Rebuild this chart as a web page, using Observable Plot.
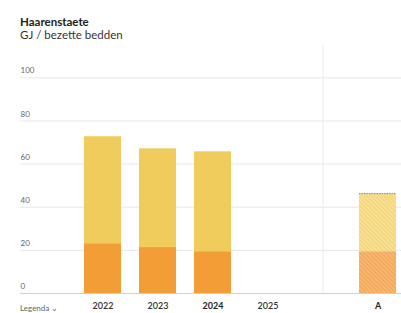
<!DOCTYPE html>
<html><head><meta charset="utf-8">
<script src="https://cdn.jsdelivr.net/npm/d3@7"></script>
<script src="https://cdn.jsdelivr.net/npm/@observablehq/plot@0.6"></script>
<style>
body{margin:0;background:#fff;font-family:Lato,"Open Sans",sans-serif;width:401px;height:313px;overflow:hidden;position:relative}
#hd{padding:15px 0 0 20px;line-height:13px;font-size:11.5px;color:#222}
#hd .t{font-weight:700}
#hd .s{color:#333}
#chart{margin-top:1px;height:269px}
#lg{position:absolute;left:20px;top:303px;font-size:8px;line-height:10px;color:#666}
</style></head><body>
<div id="hd"><div class="t">Haarenstaete</div><div class="s">GJ / bezette bedden</div></div>
<div id="chart"></div>
<div id="lg">Legenda ⌄</div>
<script>
const categories = ["2022", "2023", "2024", "2025", "A"];
const separator = " ";
const lowerValues = [23.1, 21.3, 19.4, null, 19.4];   // orange part
const totalValues = [72.7, 67.1, 65.7, null, 46.3];   // full bar height
const yTicks = [0, 20, 40, 60, 80, 100];
const boldLabels = ["2024", "A"];
const hatched = ["A"];

const domainX = [...categories.slice(0, 4), separator, ...categories.slice(4)];
const rows = [];
categories.forEach((c, i) => {
  if (lowerValues[i] == null) return;
  rows.push({cat: c, part: "onder", value: lowerValues[i]});
  rows.push({cat: c, part: "boven", value: totalValues[i] - lowerValues[i]});
});
const solid = rows.filter(d => !hatched.includes(d.cat));
const hatch = rows.filter(d => hatched.includes(d.cat));
const totals = categories.map((c, i) => ({cat: c, total: totalValues[i]})).filter(d => hatched.includes(d.cat));
const colors = {onder: "#F39D36", boven: "#EFCC5C"};
const hatchFill = {onder: "url(#hatchOnder)", boven: "url(#hatchBoven)"};

const plot = Plot.plot({
  width: 401,
  height: 269,
  marginLeft: 20,
  marginRight: 0,
  marginTop: 3,
  marginBottom: 18,
  style: {fontFamily: "Lato, 'Open Sans', sans-serif", background: "transparent"},
  x: {domain: domainX, paddingInner: 0.333, paddingOuter: 0.6, align: 0.925},
  y: {domain: [0, 115]},
  marks: [
    Plot.ruleY(yTicks.filter(v => v > 0), {stroke: "#e8e8e8"}),
    Plot.ruleX([separator], {stroke: "#efefef", strokeWidth: 1.2}),
    Plot.barY(solid, {x: "cat", y: "value", fill: d => colors[d.part], order: ["onder", "boven"], z: "part"}),
    Plot.barY(hatch, {x: "cat", y: "value", fill: d => hatchFill[d.part], order: ["onder", "boven"], z: "part"}),
    Plot.tickY(totals, {x: "cat", y: "total", stroke: "#8a8a8a", strokeDasharray: "1.5,1", strokeWidth: 1}),
    Plot.ruleY([0], {stroke: "#cfcfcf"}),
    Plot.axisY(yTicks, {anchor: "left", tickSize: 0, tickPadding: 0, textAnchor: "start", dy: -7, fontSize: 8, fill: "#666"}),
    Plot.axisX(categories.filter(c => !boldLabels.includes(c)), {tickSize: 0, tickPadding: 9, fontSize: 9, fill: "#333", fontWeight: 600, label: null}),
    Plot.axisX(boldLabels, {tickSize: 0, tickPadding: 9, fontSize: 9, fill: "#222", fontWeight: 700, label: null})
  ],
  color: {type: "identity"}
});
const ns = "http://www.w3.org/2000/svg";
const defs = document.createElementNS(ns, "defs");
defs.innerHTML = `
<pattern id="hatchOnder" width="3" height="3" patternUnits="userSpaceOnUse" patternTransform="rotate(-45)">
  <rect width="3" height="3" fill="#F7B671"/><line x1="0" y1="0" x2="0" y2="3" stroke="#F09A3A" stroke-width="1.2"/>
</pattern>
<pattern id="hatchBoven" width="3" height="3" patternUnits="userSpaceOnUse" patternTransform="rotate(-45)">
  <rect width="3" height="3" fill="#F7E094"/><line x1="0" y1="0" x2="0" y2="3" stroke="#EFCB5E" stroke-width="1.2"/>
</pattern>`;
plot.insertBefore(defs, plot.firstChild);
document.getElementById("chart").appendChild(plot);
</script>
</body></html>
